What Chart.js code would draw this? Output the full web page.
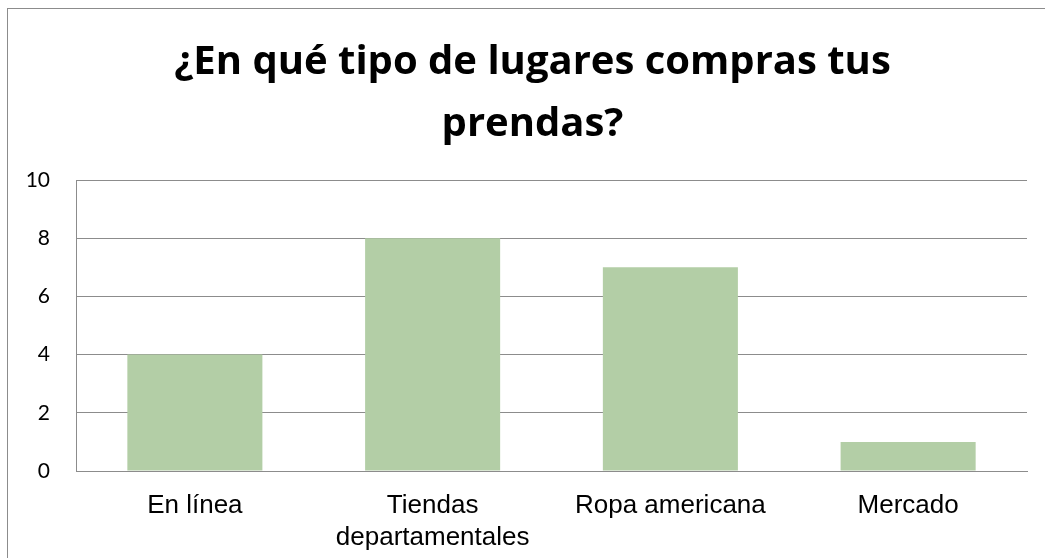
<!DOCTYPE html>
<html>
<head>
<meta charset="utf-8">
<script src="https://cdn.jsdelivr.net/npm/chart.js@4"></script>
<style>
    html, body { margin: 0; padding: 0; background: #fff; overflow: hidden; }
    #frame { position: absolute; left: 7px; top: 8px; width: 1100px; height: 600px; border: 1px solid #8c8c8c; }
    #wrap { position: absolute; left: 0; top: 0; width: 1045px; height: 558px; overflow: hidden; }
</style>
</head>
<body>
<div id="frame"></div>
<div id="wrap"><canvas id="chart" width="1083" height="558"></canvas></div>
<script>
// === Data ===
const categories = ['En línea', ['Tiendas', 'departamentales'], 'Ropa americana', 'Mercado'];
const counts = [4, 8, 7, 1];
const yTicks = [0, 2, 4, 6, 8, 10];
const titleLines = ['¿En qué tipo de lugares compras tus', 'prendas?'];

const barColor = '#b3cea6';
const gridColor = '#8c8c8c';

const ctx = document.getElementById('chart').getContext('2d');
const chart = new Chart(ctx, {
    type: 'bar',
    data: {
        labels: categories,
        datasets: [{
            data: counts,
            backgroundColor: barColor,
            borderWidth: 0,
            barPercentage: 0.568,
            categoryPercentage: 1
        }]
    },
    options: {
        responsive: false,
        animation: false,
        layout: { padding: { left: 0, right: 18, top: 0, bottom: 0 } },
        plugins: {
            legend: { display: false },
            tooltip: { enabled: false },
            title: {
                display: true,
                text: titleLines,
                color: '#000',
                font: { family: 'Open Sans', size: 40, weight: 'bold', lineHeight: 1.55 },
                padding: { top: 32, bottom: 24 }
            }
        },
        scales: {
            x: {
                grid: { display: false, drawTicks: false },
                border: { display: true, color: gridColor, width: 1 },
                ticks: {
                    color: '#000',
                    font: { family: 'Liberation Sans', size: 26, lineHeight: 1.23 },
                    padding: 19,
                    maxRotation: 0,
                    autoSkip: false
                },
                afterFit: (scale) => { scale.height = 87; }
            },
            y: {
                min: 0,
                max: 10,
                afterBuildTicks: (scale) => { scale.ticks = yTicks.map(v => ({ value: v })); },
                grid: { color: gridColor, lineWidth: 1, drawTicks: false },
                border: { display: true, color: gridColor, width: 1 },
                ticks: {
                    color: '#000',
                    font: { family: 'Lato', size: 21 },
                    padding: 26
                },
                afterFit: (scale) => { scale.width = 76; }
            },
            // empty spacer on the right (off-page) so the title centre sits where the original's does
            spacer: {
                type: 'linear',
                position: 'right',
                display: true,
                grid: { display: false, drawTicks: false },
                border: { display: false },
                ticks: { display: false },
                afterFit: (scale) => { scale.width = 38; }
            }
        }
    }
});
</script>
</body>
</html>
